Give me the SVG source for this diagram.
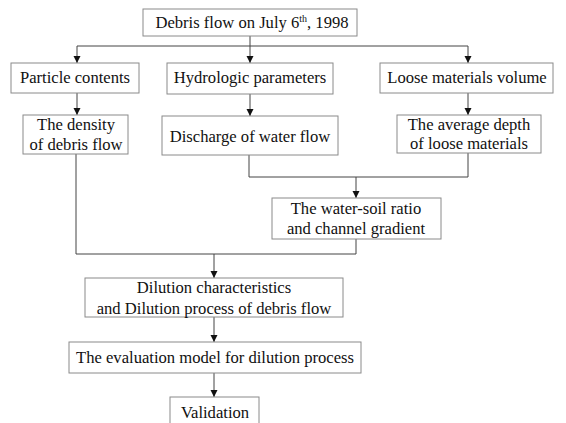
<svg xmlns="http://www.w3.org/2000/svg" width="566" height="423" viewBox="0 0 566 423">
<style>
.box{fill:#fff;stroke:#8a8a8a;stroke-width:1}
.t{font-family:"Liberation Serif","Times New Roman",serif;font-size:16.6px;fill:#111;text-anchor:middle}
.c{fill:none;stroke:#444;stroke-width:1}
</style>
<defs>
<marker id="ah" markerWidth="8" markerHeight="8" refX="7" refY="4" orient="auto" markerUnits="userSpaceOnUse">
<path d="M0,0.5 L7,4 L0,7.5 Z" fill="#111"/>
</marker>
</defs>
<rect width="566" height="423" fill="#fff"/>
<g id="connectors">
<path class="c" d="M250,36 V46"/>
<path class="c" d="M77,46 H468"/>
<path class="c" d="M77,46 V63" marker-end="url(#ah)"/>
<path class="c" d="M250,46 V63" marker-end="url(#ah)"/>
<path class="c" d="M468,46 V63" marker-end="url(#ah)"/>
<path class="c" d="M77,93 V115" marker-end="url(#ah)"/>
<path class="c" d="M250,94 V116" marker-end="url(#ah)"/>
<path class="c" d="M468,93 V115" marker-end="url(#ah)"/>
<path class="c" d="M249,155 V177 H468 V153"/>
<path class="c" d="M356,177 V198" marker-end="url(#ah)"/>
<path class="c" d="M76,154 V254 H356 V239"/>
<path class="c" d="M214,254 V278" marker-end="url(#ah)"/>
<path class="c" d="M214,317 V342" marker-end="url(#ah)"/>
<path class="c" d="M214,373 V397" marker-end="url(#ah)"/>
</g>
<g id="n-top">
<rect class="box" x="143" y="9" width="214" height="27"/>
<text class="t" x="252" y="28">Debris flow on July 6<tspan font-size="10" dy="-6">th</tspan><tspan dy="6">, 1998</tspan></text>
</g>
<g id="n-particle">
<rect class="box" x="11" y="63" width="128" height="30"/>
<text class="t" x="75" y="83">Particle contents</text>
</g>
<g id="n-hydro">
<rect class="box" x="167" y="63" width="166" height="31"/>
<text class="t" x="250" y="83">Hydrologic parameters</text>
</g>
<g id="n-loose">
<rect class="box" x="380" y="63" width="173" height="30"/>
<text class="t" x="467" y="83">Loose materials volume</text>
</g>
<g id="n-density">
<rect class="box" x="23" y="115" width="105" height="39"/>
<text class="t" x="76" y="130">The density</text>
<text class="t" x="76" y="150">of debris flow</text>
</g>
<g id="n-discharge">
<rect class="box" x="162" y="116" width="176" height="39"/>
<text class="t" x="250" y="142">Discharge of water flow</text>
</g>
<g id="n-depth">
<rect class="box" x="397" y="115" width="144" height="38"/>
<text class="t" x="469" y="130">The average depth</text>
<text class="t" x="469" y="149">of loose materials</text>
</g>
<g id="n-ratio">
<rect class="box" x="272" y="198" width="169" height="41"/>
<text class="t" x="356" y="214">The water-soil ratio</text>
<text class="t" x="356" y="234">and channel gradient</text>
</g>
<g id="n-dilution">
<rect class="box" x="85" y="278" width="258" height="39"/>
<text class="t" x="214" y="293">Dilution characteristics</text>
<text class="t" x="214" y="314">and Dilution process of debris flow</text>
</g>
<g id="n-eval">
<rect class="box" x="69" y="342" width="292" height="31"/>
<text class="t" x="215" y="363">The evaluation model for dilution process</text>
</g>
<g id="n-valid">
<rect class="box" x="170" y="397" width="89" height="30"/>
<text class="t" x="215" y="418">Validation</text>
</g>
</svg>
